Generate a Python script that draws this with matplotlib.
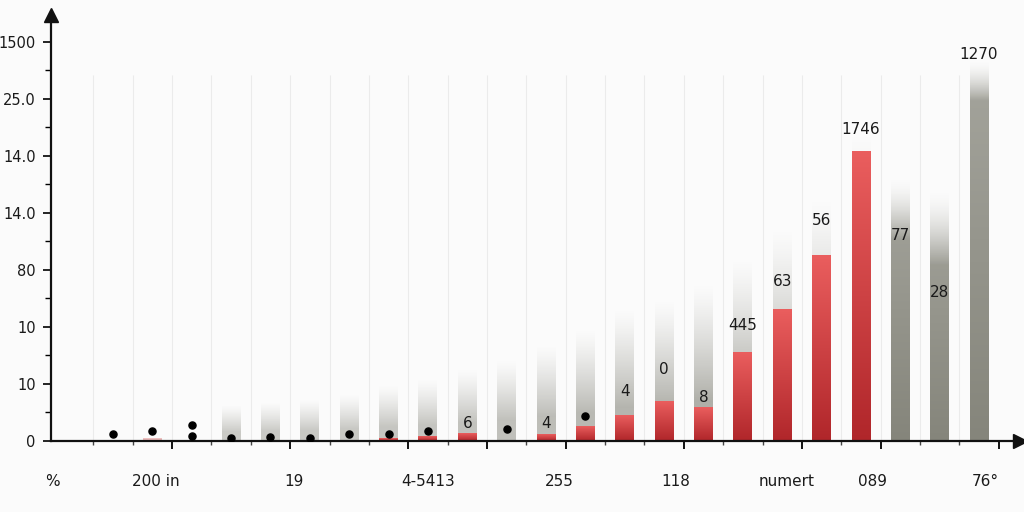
import numpy as np
import matplotlib
matplotlib.use("Agg")
import matplotlib.pyplot as plt
from matplotlib.colors import to_rgb

# column data (one slot per column, 0 = nothing drawn)
red_vals = [0, 0.05, 0, 0, 0, 0, 0, 0.05, 0.08, 0.13, 0, 0.12, 0.26, 0.45,
            0.70, 0.58, 1.55, 2.30, 3.26, 5.08, 0, 0, 0]
gray_fade = [0, 0, 0, 0.63, 0.68, 0.72, 0.81, 0.98, 1.07, 1.25, 1.42, 1.68,
             1.95, 2.30, 2.47, 2.74, 3.18, 3.70, 4.23, 5.40, 4.60, 4.40, 6.68]
gray_solid = [0, 0, 0, 0, 0, 0, 0, 0, 0, 0, 0, 0, 0, 0, 0, 0, 0, 0, 0, 0,
              3.53, 3.09, 5.98]

dot_x = [0, 1, 2, 2, 3, 4, 5, 6, 7, 8, 10, 12]
dot_y = [0.12, 0.18, 0.28, 0.09, 0.05, 0.07, 0.05, 0.12, 0.12, 0.18, 0.21, 0.44]

lab_x = [9, 11, 13, 14, 15, 16, 17, 18, 19, 20, 21, 22]
lab_y = [0.30, 0.30, 0.86, 1.26, 0.77, 2.02, 2.79, 3.86, 5.47, 3.61, 2.61, 6.77]
lab_text = ['6', '4', '4', '0', '8', '445', '63', '56', '1746', '77', '28', '1270']

xlab_pos = [-1.55, 1.1, 4.6, 8.0, 11.35, 14.3, 17.1, 19.3, 22.15]
xlab_text = ['%', '200 in', '19', '4-5413', '255', '118', 'numert', '089', '76°']
xmajor = [1.5, 4.5, 7.5, 9.5, 11.5, 14.5, 17.5, 19.5, 22.5]

ytick_pos = [0, 1, 2, 3, 4, 5, 6, 7]
ytick_text = ['0', '10', '10', '80', '14.0', '14.0', '25.0', '1500']

W = 0.48
XMIN, XMAX = -1.575, 23.04
YMAX = 7.47

fig = plt.figure(figsize=(10.24, 5.12), dpi=100, facecolor='#fbfbfb')
ax = fig.add_axes([51 / 1024, 71 / 512, 969 / 1024, 426 / 512])
ax.set_facecolor('#fbfbfb')

# faint vertical grid
ax.vlines(np.arange(-0.5, 22, 1.0), 0, 6.42, color='#ebebeb', lw=0.8, zorder=0)


def vgrad(x, top, alpha_col, rgb_top, rgb_bot, z):
    n = 200
    t = np.linspace(1, 0, n)  # 1 at top, 0 at bottom
    img = np.zeros((n, 1, 4))
    for k in range(3):
        img[:, 0, k] = rgb_bot[k] + (rgb_top[k] - rgb_bot[k]) * t
    img[:, 0, 3] = alpha_col
    ax.imshow(img, extent=[x - W / 2, x + W / 2, 0, top], aspect='auto',
              interpolation='bilinear', zorder=z, origin='upper')


# gray shadow columns
for i, (f, s) in enumerate(zip(gray_fade, gray_solid)):
    if f <= 0:
        continue
    ys = np.linspace(f, 0, 200)
    if s > 0:
        a = np.clip((f - ys) / (f - s), 0, 1) ** 1.6
        top_c, bot_c = to_rgb('#a5a59d'), to_rgb('#85857b')
    else:
        amax = min(0.85, 0.45 + f * 0.14)
        a = np.clip((f - ys) / (f * 0.75), 0, 1) ** 1.3 * amax
        top_c, bot_c = to_rgb('#9a9a92'), to_rgb('#a2a29a')
    vgrad(i, f, a, top_c, bot_c, 1)

# red bars
for i, v in enumerate(red_vals):
    if v <= 0:
        continue
    if i == 1:
        vgrad(i, v, np.ones(200), to_rgb('#f0c4c4'), to_rgb('#e3a8a8'), 2)
    else:
        vgrad(i, v, np.ones(200), to_rgb('#ea5e5e'), to_rgb('#b0262a'), 2)

ax.scatter(dot_x, dot_y, s=26, color='black', zorder=4)

for x, y, t in zip(lab_x, lab_y, lab_text):
    ax.text(x, y, t, ha='center', va='center', fontsize=11, color='#1a1a1a', zorder=5)

ax.set_xlim(XMIN, XMAX)
ax.set_ylim(0, YMAX)

for sp in ['top', 'right']:
    ax.spines[sp].set_visible(False)
for sp in ['left', 'bottom']:
    ax.spines[sp].set_linewidth(1.6)
    ax.spines[sp].set_color('#111111')
ax.plot([0], [1], marker='^', ms=10, color='#111111', transform=ax.transAxes, clip_on=False)
ax.plot([1], [0], marker='>', ms=10, color='#111111', transform=ax.transAxes, clip_on=False)

ax.set_yticks(ytick_pos, ytick_text, fontsize=10.5, color='#1a1a1a')
ax.set_yticks(np.arange(0.5, 7, 1.0), minor=True)
ax.tick_params(axis='y', which='major', length=6, width=1.2, pad=5)
ax.tick_params(axis='y', which='minor', length=4, width=1.0)

ax.set_xticks(xlab_pos, xlab_text, fontsize=11, color='#1a1a1a')
ax.tick_params(axis='x', which='major', length=0, pad=24)

# tick marks on the x axis (separate from the labels)
sec = ax.secondary_xaxis('bottom')
sec.spines['bottom'].set_visible(False)
sec.set_xticks(xmajor, [''] * len(xmajor))
sec.set_xticks([v for v in np.arange(-0.5, 23, 1.0) if v not in xmajor], minor=True)
sec.tick_params(which='major', length=6, width=1.4, color='#111111')
sec.tick_params(which='minor', length=3, width=1.0, color='#444444')

fig.savefig('out.png', dpi=100, facecolor=fig.get_facecolor())
